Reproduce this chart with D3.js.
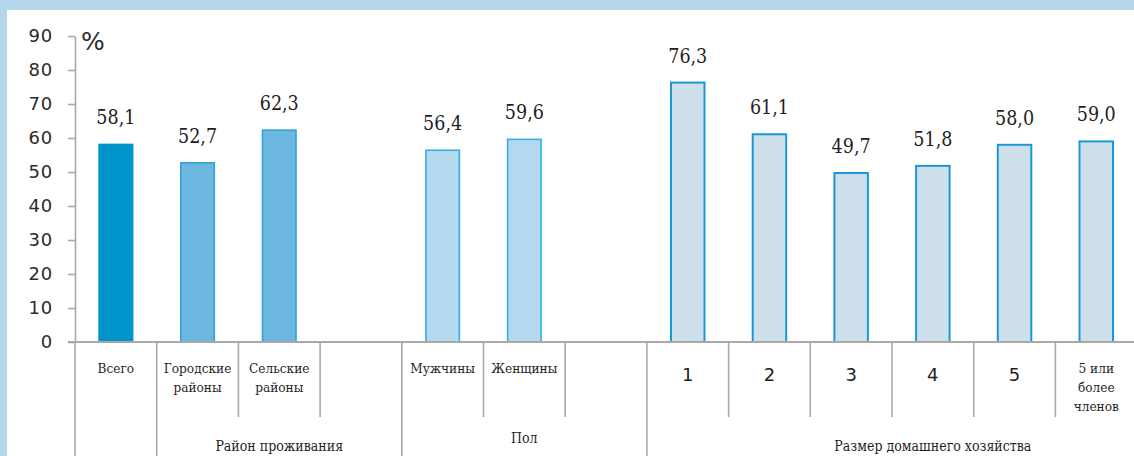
<!DOCTYPE html>
<html>
<head>
<meta charset="utf-8">
<script src="https://cdn.jsdelivr.net/npm/d3@7"></script>
<style>
  html, body { margin: 0; padding: 0; background: #b3d6ea; }
  svg { display: block; }
  .serif { font-family: "DejaVu Serif Condensed", "DejaVu Serif", serif; font-stretch: condensed; }
  .sans { font-family: "DejaVu Sans", sans-serif; }
</style>
</head>
<body>
<svg id="chart" width="1134" height="456"></svg>
<script>
// Categories (empty strings are spacer slots between groups)
const categories = [
  "Всего", "Городские\nрайоны", "Сельские\nрайоны", "",
  "Мужчины", "Женщины", "",
  "1", "2", "3", "4", "5", "5 или\nболее\nчленов", ""
];
// Share, %
const values = [58.1, 52.7, 62.3, null, 56.4, 59.6, null, 76.3, 61.1, 49.7, 51.8, 58.0, 59.0, null];
// Category groups: label, first slot, slot after last
const groupLabels = ["Район проживания", "Пол", "Размер домашнего хозяйства"];
const groupStart = [1, 4, 7];
const groupEnd = [4, 7, 14];
// Y axis ticks
const yTicks = [0, 10, 20, 30, 40, 50, 60, 70, 80, 90];

const W = 1134, H = 456;
const svg = d3.select("#chart");

// white panel inside the light-blue frame
svg.append("rect").attr("x", 7).attr("y", 10).attr("width", W - 7).attr("height", H - 10).attr("fill", "#ffffff");

const left = 75, step = 81.7;
const x = d3.scaleBand().domain(d3.range(categories.length))
  .range([left, left + step * categories.length]).padding(0);
const y = d3.scaleLinear().domain([0, 90]).range([342, 36]);
const bw = x.bandwidth() * 0.41;

const ru = d3.formatLocale({decimal: ",", thousands: "\u00a0", grouping: [3], currency: ["", " ₽"]});
const fmt = ru.format(".1f");

const gridColor = "#a8a8a8";

// bar style by group
function barStyle(i) {
  if (i === 0) return {fill: "#0094ca", stroke: "#0094ca", w: 1.6};
  const g = groupStart.findIndex((s, k) => i >= s && i < groupEnd[k]);
  if (g === 0) return {fill: "#6db8e1", stroke: "#2fa3d9", w: 1.6};
  if (g === 1) return {fill: "#b4d8ed", stroke: "#3aaee0", w: 1.6};
  return {fill: "#cee0ec", stroke: "#1b98d4", w: 2};
}

// category separators below the baseline
const boundaries = d3.range(categories.length + 1);
const longSet = new Set([0, ...groupStart]);
svg.append("g").selectAll("line").data(boundaries).join("line")
  .attr("x1", d => d < categories.length ? x(d) : x.range()[1])
  .attr("x2", d => d < categories.length ? x(d) : x.range()[1])
  .attr("y1", y(0))
  .attr("y2", d => longSet.has(d) ? H : 417)
  .attr("stroke", gridColor).attr("stroke-width", 1.6);

// y axis
const yAxis = svg.append("g").attr("transform", `translate(${left},0)`)
  .call(d3.axisLeft(y).tickValues(yTicks).tickSize(7).tickSizeOuter(0).tickPadding(15));
yAxis.attr("font-family", null);
yAxis.select(".domain").attr("stroke", gridColor).attr("stroke-width", 1.6);
yAxis.selectAll(".tick line").attr("stroke", gridColor).attr("stroke-width", 1.6);
yAxis.selectAll(".tick text")
  .attr("class", "sans")
  .attr("font-size", 18).attr("letter-spacing", 0.8).attr("fill", "#2b2b2b");

// unit label
svg.append("text").attr("class", "sans").attr("x", 81).attr("y", 50)
  .attr("font-size", 25).attr("fill", "#2b2b2b").text("%");

// bars
const data = values.map((v, i) => ({i, v})).filter(d => d.v !== null);
svg.append("g").selectAll("rect").data(data).join("rect")
  .attr("x", d => x(d.i) + (x.bandwidth() - bw) / 2)
  .attr("y", d => y(d.v))
  .attr("width", bw)
  .attr("height", d => y(0) - y(d.v))
  .attr("fill", d => barStyle(d.i).fill)
  .attr("stroke", d => barStyle(d.i).stroke)
  .attr("stroke-width", d => barStyle(d.i).w);

// x baseline
svg.append("line").attr("x1", left - 7).attr("x2", W).attr("y1", y(0)).attr("y2", y(0))
  .attr("stroke", gridColor).attr("stroke-width", 2);

// value labels
svg.append("g").selectAll("text").data(data).join("text")
  .attr("class", "serif")
  .attr("x", d => x(d.i) + x.bandwidth() / 2)
  .attr("y", d => y(d.v) - 20)
  .attr("text-anchor", "middle")
  .attr("font-size", 19.5).attr("fill", "#1f1f1f")
  .text(d => fmt(d.v));

// category labels
const catG = svg.append("g");
categories.forEach((c, i) => {
  if (!c) return;
  const numeric = /^\d$/.test(c);
  const t = catG.append("text")
    .attr("class", numeric ? "sans" : "serif")
    .attr("x", x(i) + x.bandwidth() / 2)
    .attr("y", numeric ? 381 : 373)
    .attr("text-anchor", "middle")
    .attr("font-size", numeric ? 18 : 13.5)
    .attr("fill", "#1f1f1f");
  c.split("\n").forEach((line, k) => {
    t.append("tspan").attr("x", x(i) + x.bandwidth() / 2).attr("dy", k === 0 ? 0 : 19).text(line);
  });
});

// group labels
svg.append("g").selectAll("text").data(groupLabels).join("text")
  .attr("class", "serif")
  .attr("x", (d, k) => (x(groupStart[k]) + (groupEnd[k] < categories.length ? x(groupEnd[k]) : x.range()[1])) / 2)
  .attr("y", (d, k) => k === 1 ? 443 : 451)
  .attr("text-anchor", "middle")
  .attr("font-size", 14).attr("fill", "#1f1f1f")
  .text(d => d);
</script>
</body>
</html>
